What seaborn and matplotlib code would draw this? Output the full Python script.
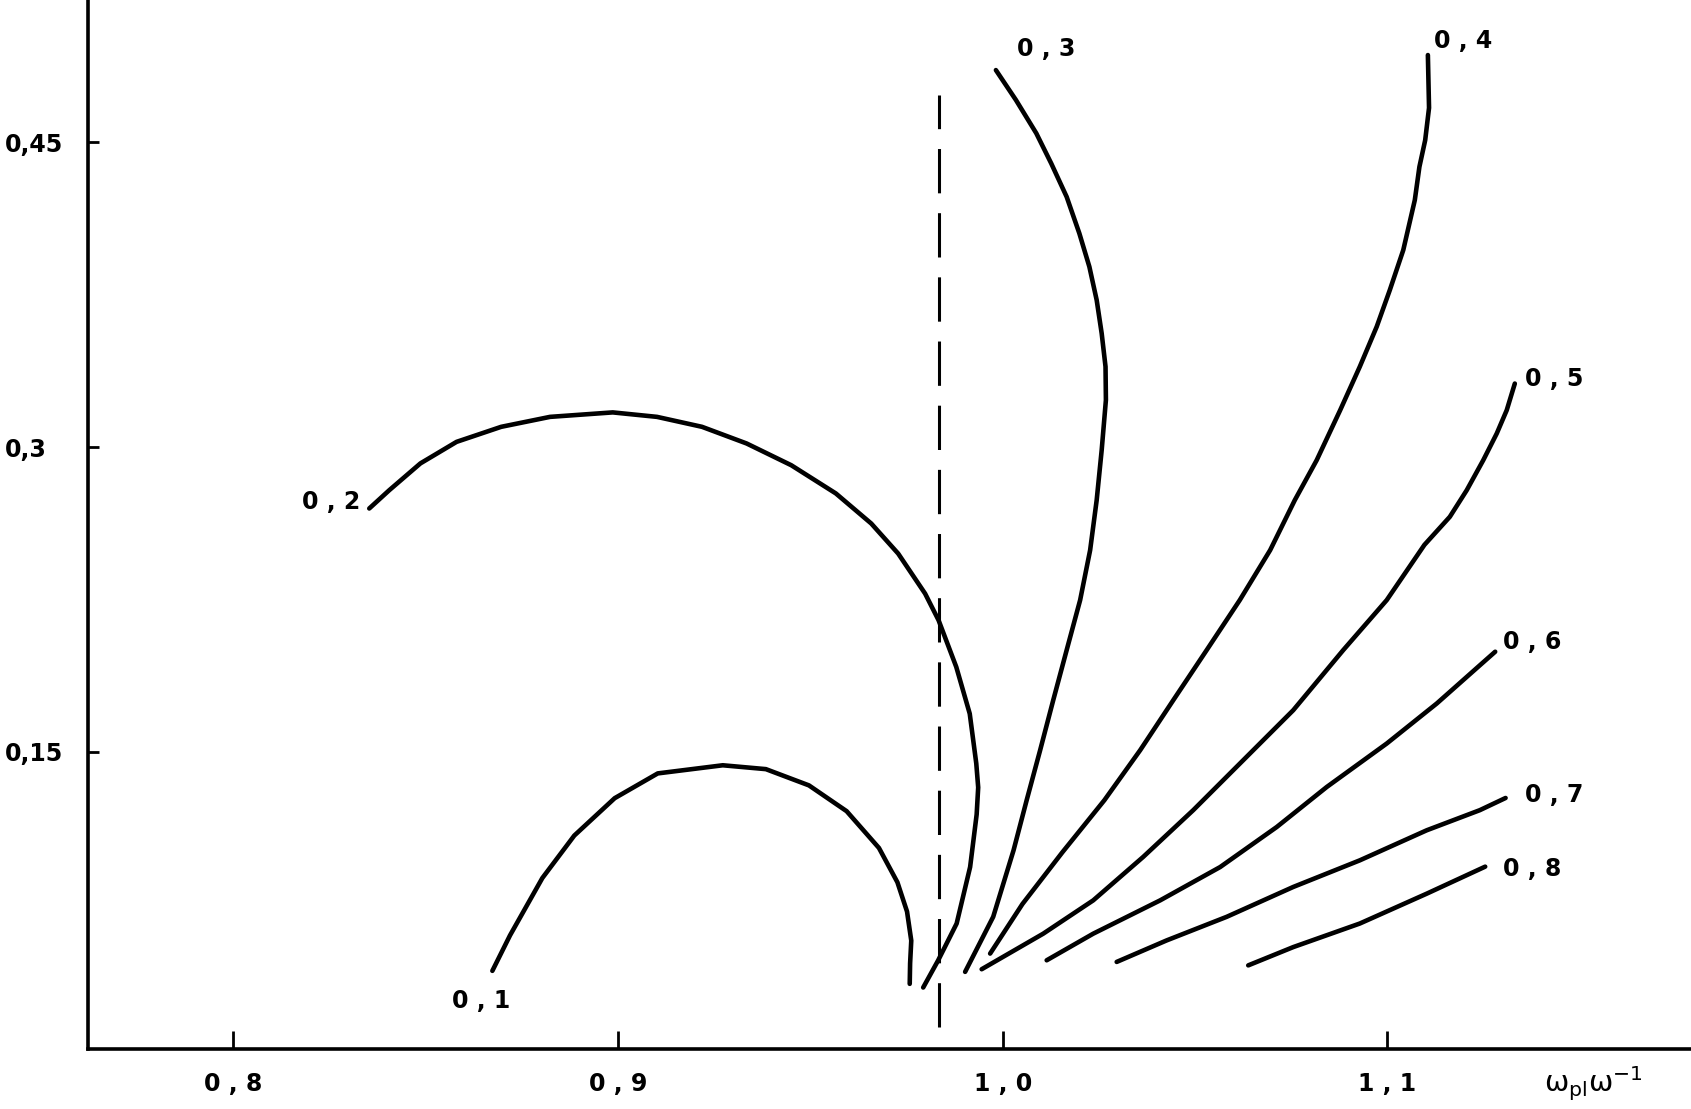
import pandas as pd
import matplotlib
matplotlib.use('Agg')
import matplotlib.pyplot as plt
import seaborn as sns

# -- curve parameter names
params = ['0 , 1', '0 , 2', '0 , 3', '0 , 4', '0 , 5', '0 , 6', '0 , 7', '0 , 8']

# -- curves (x = omega_pl / omega)
c1_x = [0.8673, 0.8719, 0.8803, 0.8886, 0.8991, 0.9103, 0.9272, 0.9384, 0.9496, 0.9594,
        0.9678, 0.9726, 0.9751, 0.9762, 0.9759, 0.9758]
c1_y = [0.0422, 0.0597, 0.0879, 0.1088, 0.1272, 0.1394, 0.1434, 0.1415, 0.1335, 0.1208,
        0.1027, 0.0858, 0.0714, 0.0571, 0.0459, 0.0358]

c2_x = [0.8353, 0.8405, 0.8486, 0.8580, 0.8696, 0.8823, 0.8986, 0.9101, 0.9218, 0.9334,
        0.9450, 0.9566, 0.9658, 0.9728, 0.9798, 0.9833, 0.9879, 0.9914, 0.9931, 0.9936,
        0.9932, 0.9915, 0.9880, 0.9832, 0.9793]
c2_y = [0.2698, 0.2788, 0.2920, 0.3026, 0.3100, 0.3149, 0.3171, 0.3149, 0.3100, 0.3018,
        0.2911, 0.2772, 0.2624, 0.2476, 0.2279, 0.2148, 0.1918, 0.1688, 0.1443, 0.1325,
        0.1192, 0.0933, 0.0655, 0.0474, 0.0340]

c3_x = [0.9982, 1.0034, 1.0087, 1.0126, 1.0166, 1.0199, 1.0225, 1.0244, 1.0257, 1.0267,
        1.0268, 1.0257, 1.0244, 1.0227, 1.0201, 1.0166, 1.0131, 1.0097, 1.0062, 1.0028,
        0.9975, 0.9902]
c3_y = [0.4856, 0.4709, 0.4545, 0.4396, 0.4232, 0.4052, 0.3888, 0.3724, 0.3560, 0.3396,
        0.3232, 0.2985, 0.2739, 0.2493, 0.2247, 0.2001, 0.1754, 0.1508, 0.1262, 0.1016,
        0.0688, 0.0417]

c4_x = [1.1105, 1.1108, 1.1098, 1.1083, 1.1071, 1.1041, 1.1006, 1.0972, 1.0928, 1.0877,
        1.0816, 1.0759, 1.0695, 1.0616, 1.0530, 1.0443, 1.0357, 1.0264, 1.0155, 1.0051,
        0.9967]
c4_y = [0.4930, 0.4670, 0.4511, 0.4380, 0.4216, 0.3970, 0.3773, 0.3593, 0.3396, 0.3182,
        0.2936, 0.2739, 0.2493, 0.2247, 0.2001, 0.1754, 0.1508, 0.1262, 0.1006, 0.0751,
        0.0507]

c5_x = [1.1331, 1.1310, 1.1284, 1.1249, 1.1206, 1.1162, 1.1096, 1.0998, 1.0885, 1.0755,
        1.0625, 1.0495, 1.0365, 1.0235, 1.0105, 0.9945]
c5_y = [0.3313, 0.3182, 0.3067, 0.2936, 0.2788, 0.2657, 0.2519, 0.2247, 0.2001, 0.1705,
        0.1459, 0.1213, 0.0983, 0.0769, 0.0605, 0.0430]

c6_x = [1.1280, 1.1240, 1.1128, 1.0998, 1.0842, 1.0712, 1.0565, 1.0409, 1.0235, 1.0114]
c6_y = [0.1993, 0.1926, 0.1738, 0.1541, 0.1327, 0.1130, 0.0933, 0.0769, 0.0605, 0.0474]

c7_x = [1.1307, 1.1240, 1.1102, 1.0928, 1.0755, 1.0582, 1.0426, 1.0296]
c7_y = [0.1273, 0.1213, 0.1114, 0.0966, 0.0835, 0.0688, 0.0572, 0.0466]

c8_x = [1.1254, 1.1102, 1.0928, 1.0755, 1.0638]
c8_y = [0.0935, 0.0802, 0.0655, 0.0539, 0.0449]

# -- dashed vertical line
crit_x = 0.9833
crit_y = [0.0146, 0.4733]

# -- axes ticks
xticks = [0.8, 0.9, 1.0, 1.1]
xtick_labels = ['0 , 8', '0 , 9', '1 , 0', '1 , 1']
yticks = [0.15, 0.3, 0.45]
ytick_labels = ['0,15', '0,3', '0,45']

curves_x = [c1_x, c2_x, c3_x, c4_x, c5_x, c6_x, c7_x, c8_x]
curves_y = [c1_y, c2_y, c3_y, c4_y, c5_y, c6_y, c7_y, c8_y]

df = pd.concat(
    [pd.DataFrame({'x': xs, 'y': ys, 'curve': p})
     for p, xs, ys in zip(params, curves_x, curves_y)],
    ignore_index=True)

sns.set_theme(style='ticks')
plt.rcParams['font.family'] = ['DejaVu Sans']
plt.rcParams['mathtext.fontset'] = 'dejavusans'
plt.rcParams['text.color'] = 'black'
plt.rcParams['axes.edgecolor'] = 'black'
plt.rcParams['xtick.color'] = 'black'
plt.rcParams['ytick.color'] = 'black'
plt.rcParams['axes.labelcolor'] = 'black'

fig = plt.figure(figsize=(16.91, 11.09), dpi=100)
ax = fig.add_axes([0.0523, 0.0544, 0.9477, 0.9456])

sns.lineplot(data=df, x='x', y='y', units='curve', estimator=None, sort=False,
             color='black', lw=3.3, solid_capstyle='round', legend=False, ax=ax)

ax.plot([crit_x, crit_x], crit_y, color='black', lw=2.2, dashes=(14.5, 6.5))

# curve labels
label_pos = {
    '0 , 1': (0.8645, 0.0273), '0 , 2': (0.8254, 0.2732),
    '0 , 3': (1.0112, 0.4962), '0 , 4': (1.1197, 0.4999),
    '0 , 5': (1.1434, 0.3334), '0 , 6': (1.1375, 0.2042),
    '0 , 7': (1.1434, 0.1288), '0 , 8': (1.1375, 0.0921),
}
for p in params:
    lx, ly = label_pos[p]
    ax.text(lx, ly, p, ha='center', va='center', fontsize=17, fontweight='bold',
            color='black')

ax.set_xlim(0.7623, 1.1789)
ax.set_ylim(0.0039, 0.5201)
ax.set_xticks(xticks)
ax.set_xticklabels(xtick_labels)
ax.set_yticks(yticks)
ax.set_yticklabels(ytick_labels)
ax.tick_params(axis='x', direction='in', length=13, width=2, pad=17, labelsize=17,
               colors='black')
ax.tick_params(axis='y', direction='in', length=8, width=2, pad=60, labelsize=17,
               colors='black')
for t in ax.get_yticklabels():
    t.set_ha('left')
for t in ax.get_xticklabels() + ax.get_yticklabels():
    t.set_fontweight('bold')

sns.despine(ax=ax)
ax.spines['left'].set_linewidth(2.6)
ax.spines['bottom'].set_linewidth(2.6)
ax.spines['left'].set_color('black')
ax.spines['bottom'].set_color('black')

ax.set_ylabel('')
ax.set_xlabel('ω$_{\\mathrm{pl}}$ω$^{-1}$', fontsize=21, color='black')
ax.xaxis.set_label_coords(0.939, -0.033)
ax.xaxis.label.set_va('center')

fig.savefig('out.png', dpi=100)
